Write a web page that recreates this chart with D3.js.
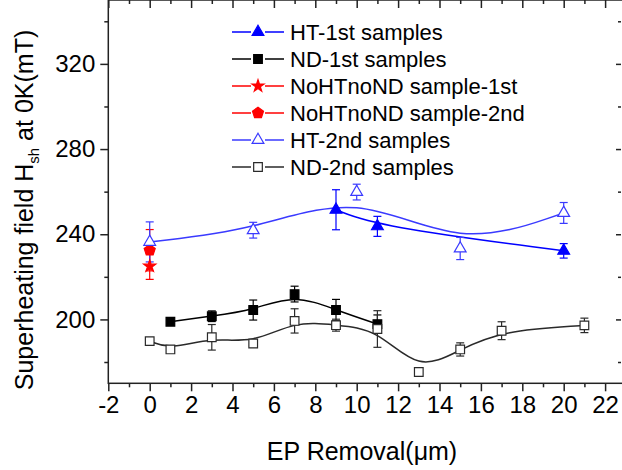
<!DOCTYPE html>
<html>
<head>
<meta charset="utf-8">
<script src="https://cdn.jsdelivr.net/npm/d3@7"></script>
<style>
  body { margin: 0; background: #fff; }
  text { font-family: "Liberation Sans", Arial, sans-serif; fill: #000; }
</style>
</head>
<body>
<svg id="chart" width="622" height="470"></svg>
<script>
// Superheating field vs EP removal

const htFirstX = [9, 11, 20]
const htFirstY = [251.5, 243.7, 232.2]
const htFirstErr = [9.4, 4.7, 3.4]

const ndFirstX = [1, 3, 5, 7, 9, 11]
const ndFirstY = [198.9, 201.5, 204.4, 211.9, 204.4, 197.8]
const ndFirstErr = [1, 2.5, 4.7, 3.7, 5, 4.3]

const noFirstX = [0]
const noFirstY = [225]
const noFirstErr = [6.2]

const noSecondX = [0]
const noSecondY = [232.5]
const noSecondErr = [9.7]

const htSecondX = [0, 5, 10, 15, 20]
const htSecondY = [236.4, 241.9, 259.8, 233.3, 250]
const htSecondErr = [9.4, 3.7, 3.7, 5.2, 4.9]

const ndSecondX = [0, 1, 3, 5, 7, 9, 11, 13, 15, 17, 21]
const ndSecondY = [189.8, 185.9, 191.6, 188.7, 199.3, 197.3, 195.5, 175.3, 185.9, 194.7, 197.2]
const ndSecondErr = [1.2, 1.2, 6, 1.5, 5.7, 2.8, 8.6, 0.8, 3.1, 4.2, 3.4]

const xMajor = d3.range(-2, 23, 2)
const xMinor = d3.range(-1, 24, 2)
const yMajor = [200, 240, 280, 320]
const yMinor = [180, 220, 260, 300, 340]

const svg = d3.select("#chart")
const plotLeft = 108.3, plotRight = 625.8, plotTop = 0, plotBottom = 383.3

var x = d3.scaleLinear().domain([-2, 23]).range([plotLeft, plotRight])
var y = d3.scaleLinear().domain([170, 350]).range([plotBottom, plotTop])

// pentagon isn't one of d3's symbols
const symbolPentagon = {
    draw: function(ctx, size) {
        var r = Math.sqrt(size / 2.378)
        for (var i = 0; i < 5; i++) {
            var a = -Math.PI / 2 + i * 2 * Math.PI / 5
            if (i == 0) ctx.moveTo(r * Math.cos(a), r * Math.sin(a))
            else ctx.lineTo(r * Math.cos(a), r * Math.sin(a))
        }
        ctx.closePath()
    }
}

const series = [
    {name: "HT-1st samples", xs: htFirstX, ys: htFirstY, err: htFirstErr, color: "#0000ff", fill: "#0000ff", sym: d3.symbolTriangle, size: 60, line: true},
    {name: "ND-1st samples", xs: ndFirstX, ys: ndFirstY, err: ndFirstErr, color: "#000000", fill: "#000000", sym: d3.symbolSquare, size: 75, line: true},
    {name: "NoHTnoND sample-1st", xs: noFirstX, ys: noFirstY, err: noFirstErr, color: "#ff0000", fill: "#ff0000", sym: d3.symbolStar, size: 45, line: false},
    {name: "NoHTnoND sample-2nd", xs: noSecondX, ys: noSecondY, err: noSecondErr, color: "#ff0000", fill: "#ff0000", sym: symbolPentagon, size: 80, line: false},
    {name: "HT-2nd samples", xs: htSecondX, ys: htSecondY, err: htSecondErr, color: "#3a3aff", fill: "#ffffff", sym: d3.symbolTriangle, size: 60, line: true},
    {name: "ND-2nd samples", xs: ndSecondX, ys: ndSecondY, err: ndSecondErr, color: "#2a2a2a", fill: "#ffffff", sym: d3.symbolSquare, size: 75, line: true}
]

// axes: outer ticks on left/bottom, inner ticks on top/right
function addAxis(gen, vals, size, transform, labels) {
    var g = svg.append("g").attr("transform", transform)
        .call(gen.tickValues(vals).tickSize(size).tickSizeOuter(0).tickPadding(5)
            .tickFormat(function(d) { return String(d) }))
    g.select(".domain").remove()
    g.selectAll("line").attr("stroke", "#222").attr("stroke-width", 1.5)
    if (!labels) g.selectAll("text").remove()
    else g.selectAll("text").attr("font-size", 24).attr("font-family", "Liberation Sans, Arial, sans-serif").attr("fill", "#000")
    return g
}

addAxis(d3.axisBottom(x), xMajor, 8, "translate(0," + plotBottom + ")", true)
addAxis(d3.axisBottom(x), xMinor, 4, "translate(0," + plotBottom + ")", false)
addAxis(d3.axisTop(x), xMajor, -8, "translate(0," + plotTop + ")", false)
addAxis(d3.axisTop(x), xMinor, -4, "translate(0," + plotTop + ")", false)
addAxis(d3.axisLeft(y), yMajor, 8, "translate(" + plotLeft + ",0)", true)
addAxis(d3.axisLeft(y), yMinor, 4, "translate(" + plotLeft + ",0)", false)
addAxis(d3.axisRight(y), yMajor, -5, "translate(621,0)", false)
addAxis(d3.axisRight(y), yMinor, -3, "translate(621,0)", false)

svg.append("rect")
    .attr("x", plotLeft).attr("y", plotTop)
    .attr("width", plotRight - plotLeft).attr("height", plotBottom - plotTop)
    .attr("fill", "none").attr("stroke", "#222").attr("stroke-width", 1.5)

var line = d3.line()
    .x(function(d) { return x(d[0]) })
    .y(function(d) { return y(d[1]) })
    .curve(d3.curveBasis)

var plot = svg.append("g")

series.forEach(function(s) {
    var pts = s.xs.map(function(v, i) { return [v, s.ys[i], s.err[i]] })
    if (s.line) {
        plot.append("path")
            .datum(pts)
            .attr("d", line)
            .attr("fill", "none")
            .attr("stroke", s.color)
            .attr("stroke-width", 1.5)
    }
    var eb = plot.append("g").attr("stroke", s.color).attr("stroke-width", 1.2)
    pts.forEach(function(p) {
        var cx = x(p[0]), y0 = y(p[1] - p[2]), y1 = y(p[1] + p[2])
        eb.append("line").attr("x1", cx).attr("x2", cx).attr("y1", y0).attr("y2", y1)
        eb.append("line").attr("x1", cx - 4).attr("x2", cx + 4).attr("y1", y0).attr("y2", y0)
        eb.append("line").attr("x1", cx - 4).attr("x2", cx + 4).attr("y1", y1).attr("y2", y1)
    })
})

series.forEach(function(s) {
    var pts = s.xs.map(function(v, i) { return [v, s.ys[i]] })
    plot.selectAll(null)
        .data(pts)
        .enter()
        .append("path")
        .attr("d", d3.symbol().type(s.sym).size(s.size))
        .attr("transform", function(d) { return "translate(" + x(d[0]) + "," + y(d[1]) + ")" })
        .attr("fill", s.fill)
        .attr("stroke", s.color)
        .attr("stroke-width", 1.2)
})

// legend
var legend = svg.append("g").attr("transform", "translate(232,32)")
series.forEach(function(s, i) {
    var row = legend.append("g").attr("transform", "translate(0," + (i * 27) + ")")
    row.append("line").attr("x1", 0).attr("x2", 19).attr("y1", 0).attr("y2", 0)
        .attr("stroke", s.color).attr("stroke-width", 1.5)
    row.append("line").attr("x1", 33).attr("x2", 52).attr("y1", 0).attr("y2", 0)
        .attr("stroke", s.color).attr("stroke-width", 1.5)
    row.append("path")
        .attr("d", d3.symbol().type(s.sym).size(s.size))
        .attr("transform", "translate(26,0)")
        .attr("fill", s.fill).attr("stroke", s.color).attr("stroke-width", 1.2)
    row.append("text")
        .attr("x", 58).attr("y", 8)
        .attr("font-size", 22)
        .text(s.name)
})

// axis titles
svg.append("text")
    .attr("x", 362).attr("y", 460)
    .attr("text-anchor", "middle")
    .attr("font-size", 25)
    .text("EP Removal(\u03bcm)")

var ytitle = svg.append("text")
    .attr("transform", "translate(33,210) rotate(-90)")
    .attr("text-anchor", "middle")
    .attr("font-size", 25)
ytitle.append("tspan").text("Superheating field H")
ytitle.append("tspan").attr("font-size", 15).attr("dy", 6).text("sh")
ytitle.append("tspan").attr("dy", -6).text(" at 0K(mT)")
</script>
</body>
</html>
